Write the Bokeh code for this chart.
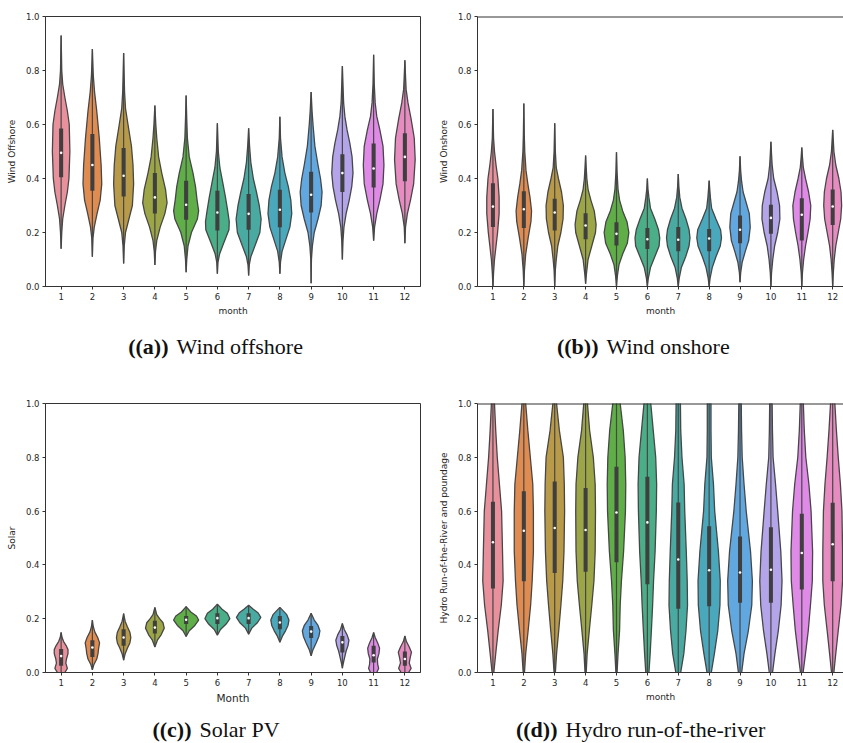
from bokeh.plotting import figure
from bokeh.layouts import column, row
from bokeh.models import Label, Span, FixedTicker, PrintfTickFormatter
from bokeh.embed import file_html
from bokeh.resources import INLINE

MONTHS = list(range(1, 13))
COLORS = ["#e8919c", "#e08c50", "#b89a48", "#9ca646", "#5fae48", "#4aae88",
          "#48aaa1", "#4aa8bd", "#62a8e0", "#b4a4ea", "#df8ae6", "#e68cc0"]

# ---- (a) Wind offshore: violin outline knots (value, half-width) ----
OFF_SHAPE = [
    [(0.14, 0), (0.2, 0.02), (0.25, 0.05), (0.3, 0.12), (0.35, 0.2), (0.4, 0.25), (0.5, 0.28), (0.6, 0.26), (0.65, 0.2), (0.7, 0.12), (0.75, 0.05), (0.8, 0.02), (0.93, 0)],
    [(0.11, 0), (0.18, 0.02), (0.22, 0.06), (0.27, 0.15), (0.32, 0.25), (0.38, 0.30), (0.45, 0.28), (0.55, 0.22), (0.65, 0.14), (0.72, 0.07), (0.78, 0.03), (0.88, 0)],
    [(0.085, 0), (0.15, 0.02), (0.2, 0.06), (0.25, 0.17), (0.3, 0.28), (0.38, 0.32), (0.45, 0.30), (0.52, 0.25), (0.6, 0.14), (0.66, 0.06), (0.72, 0.03), (0.865, 0)],
    [(0.08, 0), (0.13, 0.02), (0.17, 0.06), (0.22, 0.17), (0.27, 0.32), (0.31, 0.39), (0.36, 0.34), (0.42, 0.22), (0.48, 0.12), (0.55, 0.06), (0.6, 0.03), (0.67, 0)],
    [(0.053, 0), (0.1, 0.02), (0.15, 0.06), (0.2, 0.17), (0.25, 0.36), (0.28, 0.40), (0.32, 0.35), (0.37, 0.30), (0.42, 0.22), (0.48, 0.1), (0.55, 0.04), (0.62, 0.02), (0.707, 0)],
    [(0.047, 0), (0.09, 0.02), (0.12, 0.07), (0.16, 0.2), (0.21, 0.37), (0.24, 0.38), (0.28, 0.33), (0.33, 0.26), (0.38, 0.18), (0.44, 0.08), (0.5, 0.03), (0.605, 0)],
    [(0.041, 0), (0.08, 0.02), (0.11, 0.07), (0.15, 0.2), (0.2, 0.36), (0.25, 0.40), (0.3, 0.34), (0.35, 0.25), (0.4, 0.15), (0.46, 0.07), (0.52, 0.03), (0.586, 0)],
    [(0.047, 0), (0.09, 0.02), (0.13, 0.07), (0.17, 0.18), (0.22, 0.32), (0.27, 0.38), (0.32, 0.35), (0.37, 0.27), (0.42, 0.16), (0.48, 0.07), (0.55, 0.02), (0.629, 0)],
    [(0.012, 0), (0.1, 0.01), (0.15, 0.04), (0.2, 0.1), (0.25, 0.22), (0.3, 0.32), (0.35, 0.35), (0.4, 0.3), (0.45, 0.22), (0.52, 0.12), (0.6, 0.06), (0.65, 0.03), (0.72, 0)],
    [(0.1, 0), (0.17, 0.02), (0.22, 0.05), (0.27, 0.12), (0.32, 0.22), (0.37, 0.30), (0.42, 0.34), (0.48, 0.31), (0.53, 0.24), (0.58, 0.15), (0.63, 0.08), (0.68, 0.04), (0.817, 0)],
    [(0.17, 0), (0.22, 0.03), (0.27, 0.1), (0.32, 0.2), (0.38, 0.3), (0.45, 0.33), (0.52, 0.3), (0.58, 0.2), (0.63, 0.1), (0.68, 0.05), (0.75, 0.02), (0.858, 0)],
    [(0.16, 0), (0.22, 0.02), (0.27, 0.08), (0.32, 0.18), (0.38, 0.28), (0.47, 0.33), (0.55, 0.3), (0.62, 0.2), (0.68, 0.1), (0.73, 0.04), (0.78, 0.02), (0.838, 0)],
]
OFF_Q1 = [0.405, 0.355, 0.333, 0.27, 0.247, 0.207, 0.21, 0.219, 0.274, 0.35, 0.367, 0.39]
OFF_MED = [0.495, 0.45, 0.41, 0.33, 0.303, 0.274, 0.269, 0.284, 0.34, 0.42, 0.437, 0.48]
OFF_Q3 = [0.585, 0.565, 0.513, 0.42, 0.392, 0.355, 0.343, 0.358, 0.425, 0.49, 0.53, 0.568]

# ---- (b) Wind onshore ----
ON_SHAPE = [
    [(0, 0), (0.05, 0.02), (0.1, 0.05), (0.15, 0.1), (0.2, 0.15), (0.27, 0.2), (0.33, 0.2), (0.4, 0.16), (0.45, 0.1), (0.5, 0.05), (0.55, 0.02), (0.657, 0)],
    [(0, 0), (0.06, 0.02), (0.12, 0.06), (0.18, 0.14), (0.24, 0.23), (0.28, 0.25), (0.33, 0.2), (0.38, 0.13), (0.43, 0.07), (0.5, 0.03), (0.56, 0.015), (0.678, 0)],
    [(0, 0), (0.06, 0.02), (0.1, 0.05), (0.15, 0.1), (0.2, 0.2), (0.25, 0.27), (0.3, 0.28), (0.35, 0.22), (0.4, 0.12), (0.44, 0.05), (0.5, 0.02), (0.605, 0)],
    [(0.01, 0), (0.05, 0.03), (0.1, 0.08), (0.15, 0.2), (0.2, 0.32), (0.23, 0.34), (0.28, 0.28), (0.32, 0.17), (0.36, 0.08), (0.4, 0.04), (0.44, 0.02), (0.485, 0)],
    [(0, 0), (0.04, 0.03), (0.08, 0.08), (0.12, 0.2), (0.16, 0.35), (0.2, 0.40), (0.24, 0.34), (0.28, 0.2), (0.32, 0.1), (0.36, 0.05), (0.42, 0.02), (0.497, 0)],
    [(0, 0), (0.03, 0.03), (0.07, 0.1), (0.11, 0.24), (0.15, 0.38), (0.18, 0.40), (0.21, 0.36), (0.25, 0.24), (0.29, 0.1), (0.33, 0.05), (0.36, 0.02), (0.40, 0)],
    [(0, 0), (0.03, 0.03), (0.07, 0.1), (0.11, 0.24), (0.15, 0.35), (0.18, 0.38), (0.21, 0.35), (0.25, 0.25), (0.29, 0.12), (0.33, 0.05), (0.37, 0.02), (0.417, 0)],
    [(0, 0), (0.03, 0.03), (0.07, 0.1), (0.11, 0.22), (0.15, 0.36), (0.18, 0.40), (0.21, 0.37), (0.25, 0.22), (0.29, 0.08), (0.33, 0.04), (0.36, 0.02), (0.392, 0)],
    [(0.016, 0), (0.05, 0.02), (0.09, 0.07), (0.13, 0.17), (0.17, 0.28), (0.22, 0.33), (0.27, 0.3), (0.31, 0.2), (0.35, 0.1), (0.39, 0.05), (0.43, 0.02), (0.482, 0)],
    [(0, 0), (0.05, 0.02), (0.1, 0.06), (0.15, 0.12), (0.2, 0.22), (0.25, 0.29), (0.3, 0.28), (0.35, 0.2), (0.4, 0.09), (0.45, 0.04), (0.49, 0.02), (0.536, 0)],
    [(0, 0), (0.05, 0.02), (0.1, 0.06), (0.15, 0.12), (0.2, 0.2), (0.25, 0.27), (0.3, 0.29), (0.35, 0.22), (0.4, 0.12), (0.44, 0.05), (0.48, 0.02), (0.515, 0)],
    [(0, 0), (0.05, 0.02), (0.1, 0.05), (0.15, 0.1), (0.2, 0.18), (0.25, 0.26), (0.3, 0.29), (0.35, 0.27), (0.4, 0.2), (0.45, 0.1), (0.5, 0.04), (0.58, 0)],
]
ON_Q1 = [0.22, 0.217, 0.207, 0.175, 0.152, 0.139, 0.131, 0.131, 0.16, 0.195, 0.17, 0.228]
ON_MED = [0.296, 0.286, 0.274, 0.226, 0.195, 0.175, 0.173, 0.178, 0.21, 0.254, 0.266, 0.296]
ON_Q3 = [0.382, 0.353, 0.325, 0.271, 0.238, 0.217, 0.22, 0.213, 0.263, 0.303, 0.327, 0.359]

# ---- (c) Solar PV ----
PV_SHAPE = [
    [(-0.015, 0), (0.0, 0.12), (0.015, 0.2), (0.035, 0.15), (0.05, 0.17), (0.07, 0.22), (0.085, 0.22), (0.1, 0.16), (0.115, 0.08), (0.13, 0.03), (0.149, 0)],
    [(0.01, 0), (0.03, 0.05), (0.05, 0.14), (0.07, 0.18), (0.09, 0.2), (0.11, 0.23), (0.13, 0.17), (0.15, 0.08), (0.17, 0.03), (0.195, 0)],
    [(0.046, 0), (0.07, 0.05), (0.09, 0.12), (0.11, 0.2), (0.13, 0.23), (0.15, 0.2), (0.17, 0.12), (0.19, 0.05), (0.219, 0)],
    [(0.095, 0), (0.12, 0.08), (0.14, 0.2), (0.165, 0.3), (0.185, 0.26), (0.2, 0.15), (0.215, 0.06), (0.242, 0)],
    [(0.134, 0), (0.155, 0.1), (0.175, 0.28), (0.195, 0.4), (0.21, 0.33), (0.225, 0.15), (0.245, 0)],
    [(0.139, 0), (0.16, 0.1), (0.18, 0.28), (0.2, 0.4), (0.22, 0.32), (0.235, 0.15), (0.254, 0)],
    [(0.142, 0), (0.165, 0.1), (0.185, 0.28), (0.205, 0.39), (0.222, 0.3), (0.235, 0.15), (0.25, 0)],
    [(0.112, 0), (0.135, 0.08), (0.155, 0.18), (0.175, 0.26), (0.195, 0.29), (0.215, 0.22), (0.23, 0.1), (0.242, 0)],
    [(0.062, 0), (0.085, 0.06), (0.11, 0.16), (0.135, 0.25), (0.155, 0.28), (0.175, 0.22), (0.195, 0.1), (0.22, 0)],
    [(0.016, 0), (0.04, 0.04), (0.06, 0.08), (0.08, 0.12), (0.1, 0.18), (0.12, 0.21), (0.14, 0.15), (0.16, 0.06), (0.182, 0)],
    [(-0.015, 0), (0.0, 0.1), (0.015, 0.16), (0.03, 0.13), (0.05, 0.12), (0.07, 0.17), (0.09, 0.19), (0.11, 0.13), (0.13, 0.05), (0.149, 0)],
    [(-0.015, 0), (0.0, 0.12), (0.015, 0.2), (0.035, 0.14), (0.055, 0.17), (0.075, 0.21), (0.095, 0.14), (0.115, 0.05), (0.136, 0)],
]
PV_Q1 = [0.025, 0.058, 0.099, 0.145, 0.18, 0.18, 0.18, 0.161, 0.128, 0.074, 0.037, 0.025]
PV_MED = [0.061, 0.093, 0.13, 0.167, 0.196, 0.202, 0.202, 0.186, 0.152, 0.112, 0.064, 0.05]
PV_Q3 = [0.087, 0.12, 0.161, 0.192, 0.21, 0.22, 0.22, 0.21, 0.173, 0.136, 0.099, 0.078]

# ---- (d) Hydro run-of-the-river ----
ROR_SHAPE = [
    [(-0.02, 0.01), (0.07, 0.09), (0.156, 0.17), (0.25, 0.27), (0.34, 0.33), (0.45, 0.31), (0.6, 0.28), (0.7, 0.21), (0.8, 0.14), (0.9, 0.09), (1.0, 0.05), (1.05, 0.04)],
    [(-0.02, 0.01), (0.07, 0.06), (0.156, 0.14), (0.25, 0.22), (0.34, 0.27), (0.45, 0.31), (0.6, 0.31), (0.7, 0.29), (0.8, 0.21), (0.9, 0.13), (1.0, 0.06), (1.05, 0.05)],
    [(-0.02, 0.01), (0.07, 0.06), (0.156, 0.13), (0.25, 0.2), (0.34, 0.26), (0.45, 0.3), (0.6, 0.32), (0.7, 0.31), (0.8, 0.28), (0.9, 0.15), (1.0, 0.06), (1.05, 0.05)],
    [(-0.02, 0.01), (0.07, 0.05), (0.156, 0.12), (0.25, 0.2), (0.34, 0.27), (0.45, 0.31), (0.6, 0.32), (0.7, 0.31), (0.8, 0.25), (0.9, 0.13), (1.0, 0.06), (1.05, 0.05)],
    [(-0.02, 0.01), (0.07, 0.05), (0.156, 0.1), (0.25, 0.12), (0.34, 0.16), (0.45, 0.23), (0.6, 0.29), (0.7, 0.3), (0.8, 0.28), (0.9, 0.22), (1.0, 0.12), (1.05, 0.1)],
    [(-0.02, 0.04), (0.07, 0.09), (0.156, 0.13), (0.25, 0.17), (0.34, 0.2), (0.45, 0.25), (0.6, 0.29), (0.7, 0.3), (0.8, 0.27), (0.9, 0.19), (1.0, 0.11), (1.05, 0.09)],
    [(-0.02, 0.05), (0.07, 0.18), (0.156, 0.25), (0.25, 0.3), (0.34, 0.29), (0.45, 0.26), (0.6, 0.21), (0.7, 0.19), (0.8, 0.12), (0.9, 0.08), (1.0, 0.07), (1.05, 0.06)],
    [(-0.02, 0.04), (0.07, 0.17), (0.156, 0.28), (0.25, 0.35), (0.34, 0.36), (0.45, 0.3), (0.6, 0.18), (0.7, 0.14), (0.8, 0.07), (0.9, 0.06), (1.0, 0.06), (1.05, 0.05)],
    [(-0.02, 0.03), (0.07, 0.13), (0.156, 0.27), (0.25, 0.38), (0.34, 0.4), (0.45, 0.34), (0.6, 0.2), (0.7, 0.13), (0.8, 0.07), (0.9, 0.05), (1.0, 0.04), (1.05, 0.04)],
    [(-0.02, 0.03), (0.07, 0.13), (0.156, 0.24), (0.25, 0.33), (0.34, 0.36), (0.45, 0.32), (0.6, 0.22), (0.7, 0.15), (0.8, 0.07), (0.9, 0.05), (1.0, 0.04), (1.05, 0.04)],
    [(-0.02, 0.02), (0.07, 0.12), (0.156, 0.21), (0.25, 0.28), (0.34, 0.34), (0.45, 0.35), (0.6, 0.3), (0.7, 0.23), (0.8, 0.13), (0.9, 0.08), (1.0, 0.05), (1.05, 0.05)],
    [(-0.02, 0.02), (0.07, 0.1), (0.156, 0.18), (0.25, 0.27), (0.34, 0.32), (0.45, 0.32), (0.6, 0.3), (0.7, 0.25), (0.8, 0.18), (0.9, 0.12), (1.0, 0.07), (1.05, 0.06)],
]
ROR_Q1 = [0.312, 0.339, 0.37, 0.375, 0.41, 0.328, 0.237, 0.246, 0.259, 0.259, 0.309, 0.339]
ROR_MED = [0.484, 0.527, 0.537, 0.53, 0.595, 0.558, 0.42, 0.38, 0.372, 0.382, 0.444, 0.477]
ROR_Q3 = [0.635, 0.674, 0.71, 0.686, 0.765, 0.728, 0.632, 0.544, 0.506, 0.54, 0.59, 0.631]

CAPTION_TAGS = ["((a))", "((b))", "((c))", "((d))"]
CAPTION_TEXTS = ["Wind offshore", "Wind onshore", "Solar PV", "Hydro run-of-the-river"]

EDGE = "#474747"
AX = "#333333"


def make_panel(shape, q1, med, q3, ylabel, xlabel, xlabel_size,
               width, height, bl, br, bt, bb, x_end, full_outline):
    p = figure(width=width, height=height, x_range=(0.5, x_end), y_range=(0.0, 1.0),
               output_backend="svg", toolbar_location=None,
               min_border_left=bl, min_border_right=br, min_border_top=bt,
               min_border_bottom=bb)
    p.xgrid.visible = False
    p.ygrid.visible = False
    p.background_fill_color = "white"
    p.border_fill_color = "white"
    if full_outline:
        p.outline_line_color = AX
        p.outline_line_width = 1
    else:
        p.outline_line_color = None
        p.add_layout(Span(location=1.0, dimension="width", line_color=AX, line_width=2))

    xs, ys = [], []
    for m, prof in zip(MONTHS, shape):
        right_x = [m + w for (_, w) in prof]
        left_x = [m - w for (_, w) in reversed(prof)]
        yy = [v for (v, _) in prof]
        xs.append(right_x + left_x)
        ys.append(yy + yy[::-1])
    p.patches(xs, ys, fill_color=COLORS, line_color=EDGE, line_width=1.3)

    lo = [prof[0][0] for prof in shape]
    hi = [prof[-1][0] for prof in shape]
    p.segment(x0=MONTHS, y0=lo, x1=MONTHS, y1=hi, line_color=EDGE, line_width=1.2)
    p.vbar(x=MONTHS, bottom=q1, top=q3, width=0.13, fill_color="#3f3f3f", line_color=None)
    p.scatter(x=MONTHS, y=med, size=2.6, marker="circle", fill_color="white", line_color=None)

    p.xaxis.ticker = FixedTicker(ticks=MONTHS)
    p.yaxis.ticker = FixedTicker(ticks=[0.0, 0.2, 0.4, 0.6, 0.8, 1.0])
    p.yaxis.formatter = PrintfTickFormatter(format="%.1f")
    for ax in (p.xaxis[0], p.yaxis[0]):
        ax.axis_line_color = AX
        ax.axis_line_width = 1
        ax.major_tick_line_color = AX
        ax.major_tick_out = 3
        ax.major_tick_in = 0
        ax.minor_tick_line_color = None
        ax.major_label_text_font = "DejaVu Sans"
        ax.major_label_text_font_size = "8.5px"
        ax.major_label_text_color = "#262626"
        ax.major_label_standoff = 3
        ax.axis_label_text_font = "DejaVu Sans"
        ax.axis_label_text_font_style = "normal"
        ax.axis_label_text_color = "#262626"
    p.xaxis.axis_label = xlabel
    p.xaxis.axis_label_text_font_size = xlabel_size
    p.xaxis.axis_label_standoff = 3
    p.yaxis.axis_label = ylabel
    p.yaxis.axis_label_text_font_size = "9px"
    p.yaxis.axis_label_standoff = 6
    return p


def make_caption(tag, text, width, height, gap_x, mid_y):
    c = figure(width=width, height=height, x_range=(0, width), y_range=(height, 0),
               output_backend="svg", toolbar_location=None,
               min_border_left=0, min_border_right=0, min_border_top=0, min_border_bottom=0)
    c.axis.visible = False
    c.grid.visible = False
    c.outline_line_color = None
    c.background_fill_color = "white"
    c.border_fill_color = "white"
    c.add_layout(Label(x=gap_x - 4, y=mid_y, text=tag, text_font="Liberation Serif",
                       text_font_style="bold", text_font_size="22px", text_align="right",
                       text_baseline="middle", text_color="#111111"))
    c.add_layout(Label(x=gap_x + 4, y=mid_y, text=text, text_font="Liberation Serif",
                       text_font_size="22px", text_align="left", text_baseline="middle",
                       text_color="#111111"))
    return c


pa = make_panel(OFF_SHAPE, OFF_Q1, OFF_MED, OFF_Q3, "Wind Offshore", "month", "9px",
                435, 322, 45, 15, 16, 36, 12.5, True)
pb = make_panel(ON_SHAPE, ON_Q1, ON_MED, ON_Q3, "Wind Onshore", "month", "9px",
                408, 322, 38, 0, 16, 36, 12.35, False)
pc = make_panel(PV_SHAPE, PV_Q1, PV_MED, PV_Q3, "Solar", "Month", "10.5px",
                435, 326, 45, 15, 23, 34, 12.5, True)
pd = make_panel(ROR_SHAPE, ROR_Q1, ROR_MED, ROR_Q3, "Hydro Run-of-the-River and poundage",
                "month", "9px", 408, 326, 38, 0, 23, 34, 12.35, False)

ca = make_caption(CAPTION_TAGS[0], CAPTION_TEXTS[0], 435, 58, 172, 24)
cb = make_caption(CAPTION_TAGS[1], CAPTION_TEXTS[1], 408, 58, 602 - 435, 24)
cc = make_caption(CAPTION_TAGS[2], CAPTION_TEXTS[2], 435, 37, 195, 23)
cd = make_caption(CAPTION_TAGS[3], CAPTION_TEXTS[3], 408, 37, 561 - 435, 23)

layout = column(row(pa, pb), row(ca, cb), row(pc, pd), row(cc, cd))
open("out.html", "w").write(file_html(layout, INLINE))
